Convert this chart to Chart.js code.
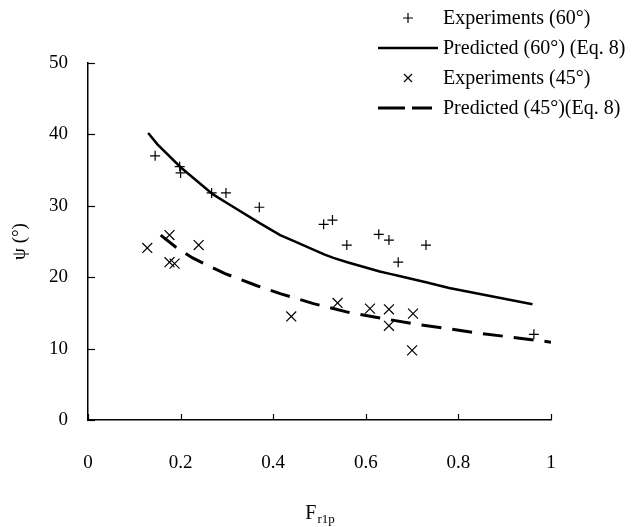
<!DOCTYPE html>
<html><head><meta charset="utf-8">
<script src="https://cdn.jsdelivr.net/npm/chart.js@4/dist/chart.umd.min.js"></script>
<style>html,body{margin:0;padding:0;background:#fff;}#wrap{width:633px;height:527px;}</style>
</head><body><div id="wrap"><canvas id="c" width="633" height="527"></canvas></div>
<script>
// Experiments 60°
const exp60X = [0.145, 0.198, 0.2, 0.267, 0.298, 0.37, 0.509, 0.528, 0.559, 0.628, 0.65, 0.67, 0.73, 0.963];
const exp60Y = [37.0, 35.5, 34.6, 31.8, 31.8, 29.8, 27.4, 28.0, 24.5, 26.0, 25.2, 22.1, 24.5, 12.0];
// Predicted 60° (Eq. 8)
const pred60X = [0.13, 0.15, 0.2, 0.27, 0.3, 0.37, 0.415, 0.44, 0.51, 0.53, 0.56, 0.63, 0.65, 0.67, 0.73, 0.78, 0.96];
const pred60Y = [40.2, 38.6, 35.4, 31.6, 30.4, 27.6, 25.9, 25.2, 23.2, 22.7, 22.1, 20.8, 20.5, 20.2, 19.3, 18.5, 16.2];
// Experiments 45°
const exp45X = [0.128, 0.176, 0.176, 0.187, 0.239, 0.439, 0.539, 0.609, 0.65, 0.65, 0.702, 0.70];
const exp45Y = [24.1, 25.9, 22.1, 21.9, 24.5, 14.5, 16.4, 15.6, 15.5, 13.2, 14.9, 9.75];
// Predicted 45° (Eq. 8)
const pred45X = [0.157, 0.19, 0.226, 0.257, 0.296, 0.365, 0.415, 0.487, 0.567, 0.639, 0.709, 0.778, 0.85, 0.915, 1.0];
const pred45Y = [25.9, 24.2, 22.7, 21.7, 20.5, 18.8, 17.7, 16.3, 15.0, 14.2, 13.4, 12.8, 12.1, 11.6, 10.9];
// Axis ticks
const xTicks = [0, 0.2, 0.4, 0.6, 0.8, 1];
const xTickLabels = ["0", "0.2", "0.4", "0.6", "0.8", "1"];
const yTicks = [0, 10, 20, 30, 40, 50];
const legendLabels = ["Experiments (60°)", "Predicted (60°) (Eq. 8)", "Experiments (45°)", "Predicted (45°)(Eq. 8)"];

const FONT = "'Liberation Serif', 'Times New Roman', serif";
const zip = (xs, ys) => xs.map((x, i) => ({x: x, y: ys[i]}));

const decor = {
  id: 'decor',
  afterDraw(chart) {
    const ctx = chart.ctx;
    const xs = chart.scales.x, ys = chart.scales.y;
    const ca = chart.chartArea;
    ctx.save();
    ctx.strokeStyle = '#000';
    ctx.lineWidth = 1.2;
    // inward ticks
    yTicks.forEach(v => {
      const py = Math.round(ys.getPixelForValue(v)) + 0.5;
      ctx.beginPath(); ctx.moveTo(ca.left, py); ctx.lineTo(ca.left + 7, py); ctx.stroke();
    });
    xTicks.forEach(v => {
      const px = Math.round(xs.getPixelForValue(v)) + 0.5;
      ctx.beginPath(); ctx.moveTo(px, ca.bottom); ctx.lineTo(px, ca.bottom - 6); ctx.stroke();
    });
    // x axis title F_r1p
    ctx.fillStyle = '#000';
    ctx.textBaseline = 'alphabetic';
    ctx.font = '20px ' + FONT;
    const cx = (ca.left + ca.right) / 2;
    const wF = ctx.measureText('F').width;
    ctx.font = '13px ' + FONT;
    const wS = ctx.measureText('r1p').width;
    const start = cx - (wF + wS) / 2;
    ctx.font = '20px ' + FONT;
    ctx.fillText('F', start, 519);
    ctx.font = '13px ' + FONT;
    ctx.fillText('r1p', start + wF + 1, 523);
    // legend
    const rows = [18, 48, 78, 108];
    ctx.font = '20px ' + FONT;
    ctx.textBaseline = 'middle';
    ctx.textAlign = 'left';
    legendLabels.forEach((t, i) => ctx.fillText(t, 443, rows[i] + 1));
    // + marker
    ctx.lineWidth = 1.2;
    ctx.beginPath();
    ctx.moveTo(403, rows[0]); ctx.lineTo(413, rows[0]);
    ctx.moveTo(408, rows[0] - 5); ctx.lineTo(408, rows[0] + 5);
    ctx.stroke();
    // solid line
    ctx.lineWidth = 2.5;
    ctx.beginPath(); ctx.moveTo(378, rows[1]); ctx.lineTo(438, rows[1]); ctx.stroke();
    // x marker
    ctx.lineWidth = 1.2;
    ctx.beginPath();
    ctx.moveTo(404, rows[2] - 4); ctx.lineTo(412, rows[2] + 4);
    ctx.moveTo(404, rows[2] + 4); ctx.lineTo(412, rows[2] - 4);
    ctx.stroke();
    // dashed line
    ctx.lineWidth = 3;
    ctx.beginPath();
    ctx.moveTo(378, rows[3]); ctx.lineTo(405, rows[3]);
    ctx.moveTo(412, rows[3]); ctx.lineTo(432, rows[3]);
    ctx.stroke();
    ctx.restore();
  }
};

new Chart(document.getElementById('c'), {
  type: 'scatter',
  data: {
    datasets: [
      { label: legendLabels[0], data: zip(exp60X, exp60Y), pointStyle: 'cross', pointRadius: 5, pointBorderWidth: 1.2, borderColor: '#000', backgroundColor: '#000', showLine: false },
      { label: legendLabels[1], data: zip(pred60X, pred60Y), showLine: true, pointRadius: 0, borderColor: '#000', borderWidth: 2.5, tension: 0 },
      { label: legendLabels[2], data: zip(exp45X, exp45Y), pointStyle: 'crossRot', pointRadius: 7, pointBorderWidth: 1.2, borderColor: '#000', backgroundColor: '#000', showLine: false },
      { label: legendLabels[3], data: zip(pred45X, pred45Y), showLine: true, pointRadius: 0, borderColor: '#000', borderWidth: 3, borderDash: [20, 11], tension: 0 }
    ]
  },
  options: {
    responsive: false,
    animation: false,
    layout: { padding: { top: 63, right: 82, left: 0, bottom: 0 } },
    plugins: { legend: { display: false }, tooltip: { enabled: false } },
    scales: {
      x: {
        type: 'linear', min: 0, max: 1,
        afterBuildTicks: s => { s.ticks = xTicks.map(v => ({value: v})); },
        afterFit: s => { s.height = 107; },
        grid: { display: true, drawOnChartArea: false, drawTicks: false, tickLength: 0 },
        border: { display: true, color: '#000', width: 1.5 },
        ticks: { color: '#000', padding: 32, font: { family: FONT, size: 19 }, maxRotation: 0,
                 callback: (v) => { const i = xTicks.indexOf(v); return i >= 0 ? xTickLabels[i] : String(v); } }
      },
      y: {
        type: 'linear', min: 0, max: 50,
        afterBuildTicks: s => { s.ticks = yTicks.map(v => ({value: v})); },
        afterFit: s => { s.width = 88; },
        grid: { display: true, drawOnChartArea: false, drawTicks: false, tickLength: 0 },
        border: { display: true, color: '#000', width: 1.5 },
        ticks: { color: '#000', padding: 20, font: { family: FONT, size: 19 } },
        title: { display: true, text: 'ψ (°)', color: '#000', font: { family: FONT, size: 19 }, padding: { top: 9, bottom: 0 } }
      }
    }
  },
  plugins: [decor]
});
</script></body></html>
